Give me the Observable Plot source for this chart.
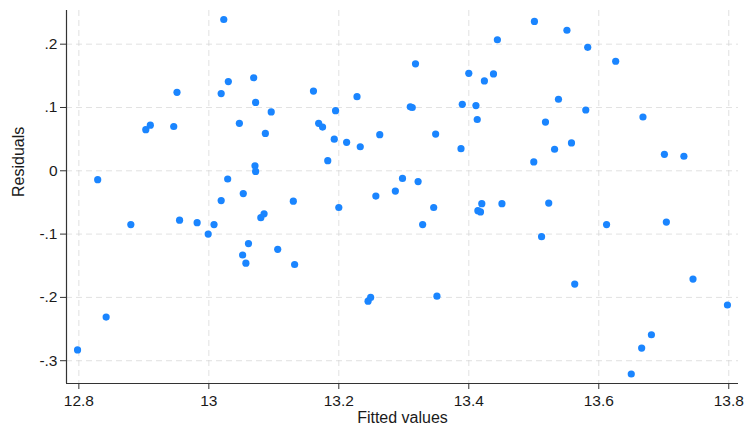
<!DOCTYPE html>
<html>
<head>
<meta charset="utf-8">
<script src="https://cdn.jsdelivr.net/npm/d3@7"></script>
<script src="https://cdn.jsdelivr.net/npm/@observablehq/plot@0.6"></script>
<style>
  html, body { margin: 0; padding: 0; background: white; }
</style>
</head>
<body>
<div id="chart"></div>
<script>
const fitted = [12.798,12.829,12.842,12.880,12.903,12.910,12.946,12.951,12.955,12.982,
  12.999,13.008,13.019,13.019,13.023,13.029,13.030,13.047,13.052,13.053,
  13.057,13.061,13.069,13.071,13.072,13.072,13.080,13.085,13.087,13.096,
  13.106,13.130,13.132,13.161,13.169,13.175,13.183,13.193,13.195,13.200,
  13.212,13.228,13.233,13.245,13.249,13.257,13.263,13.287,13.298,13.310,
  13.313,13.318,13.322,13.329,13.346,13.349,13.351,13.388,13.390,13.400,
  13.411,13.413,13.414,13.418,13.420,13.424,13.438,13.444,13.451,13.500,
  13.501,13.512,13.518,13.523,13.532,13.538,13.551,13.558,13.563,13.580,
  13.583,13.612,13.626,13.650,13.666,13.668,13.681,13.701,13.704,13.731,
  13.745,13.798];
const residuals = [-0.283,-0.014,-0.231,-0.085,0.065,0.072,0.070,0.124,-0.078,-0.082,
  -0.100,-0.085,0.122,-0.047,0.239,-0.013,0.141,0.075,-0.133,-0.036,
  -0.146,-0.115,0.147,0.008,0.108,-0.001,-0.074,-0.068,0.059,0.093,
  -0.124,-0.048,-0.148,0.126,0.075,0.069,0.016,0.050,0.095,-0.058,
  0.045,0.117,0.038,-0.206,-0.200,-0.040,0.057,-0.032,-0.012,0.101,
  0.100,0.169,-0.017,-0.085,-0.058,0.058,-0.198,0.035,0.105,0.154,
  0.103,0.081,-0.063,-0.065,-0.052,0.142,0.153,0.207,-0.052,0.014,
  0.236,-0.104,0.077,-0.051,0.034,0.113,0.222,0.044,-0.179,0.096,
  0.195,-0.085,0.173,-0.321,-0.280,0.085,-0.259,0.026,-0.081,0.023,
  -0.171,-0.212];
const xTicks = [12.8, 13, 13.2, 13.4, 13.6, 13.8];
const yTicks = [-0.3, -0.2, -0.1, 0, 0.1, 0.2];
const xDomain = [12.781, 13.815];
const yDomain = [-0.336, 0.2532];
const xLabel = "Fitted values";
const yLabel = "Residuals";

const data = fitted.map((f, i) => ({fitted: f, resid: residuals[i]}));
const yFmt = d => d === 0 ? "0" : String(d).replace("0.", ".");

const chart = Plot.plot({
  width: 747,
  height: 431,
  marginLeft: 66,
  marginRight: 9,
  marginTop: 10,
  marginBottom: 48,
  style: {fontFamily: "'Liberation Sans', Arial, sans-serif", fontSize: "15.5px", color: "#1a1a1a", background: "white"},
  x: {domain: xDomain},
  y: {domain: yDomain},
  marks: [
    Plot.gridX(xTicks, {stroke: "#d4d4d4", strokeOpacity: 0.7, strokeDasharray: "6,4"}),
    Plot.gridY(yTicks, {stroke: "#d4d4d4", strokeOpacity: 0.7, strokeDasharray: "6,4"}),
    Plot.axisX(xTicks, {tickSize: 6, tickPadding: 5, tickFormat: d => String(d), label: null, stroke: "#333"}),
    Plot.axisY(yTicks, {tickSize: 6, tickPadding: 3, tickFormat: yFmt, label: null, stroke: "#333"}),
    Plot.text([xLabel], {frameAnchor: "bottom", dy: 39, fontSize: 16, fill: "#1a1a1a"}),
    Plot.text([yLabel], {frameAnchor: "left", dx: -48, rotate: -90, fontSize: 16, fill: "#1a1a1a"}),
    Plot.ruleY([yDomain[0]], {stroke: "#333", strokeWidth: 1.2}),
    Plot.ruleX([xDomain[0]], {stroke: "#333", strokeWidth: 1.2}),
    Plot.dot(data, {x: "fitted", y: "resid", r: 3.6, fill: "#1a85ff", stroke: "none"})
  ]
});
document.getElementById("chart").append(chart);
</script>
</body>
</html>
